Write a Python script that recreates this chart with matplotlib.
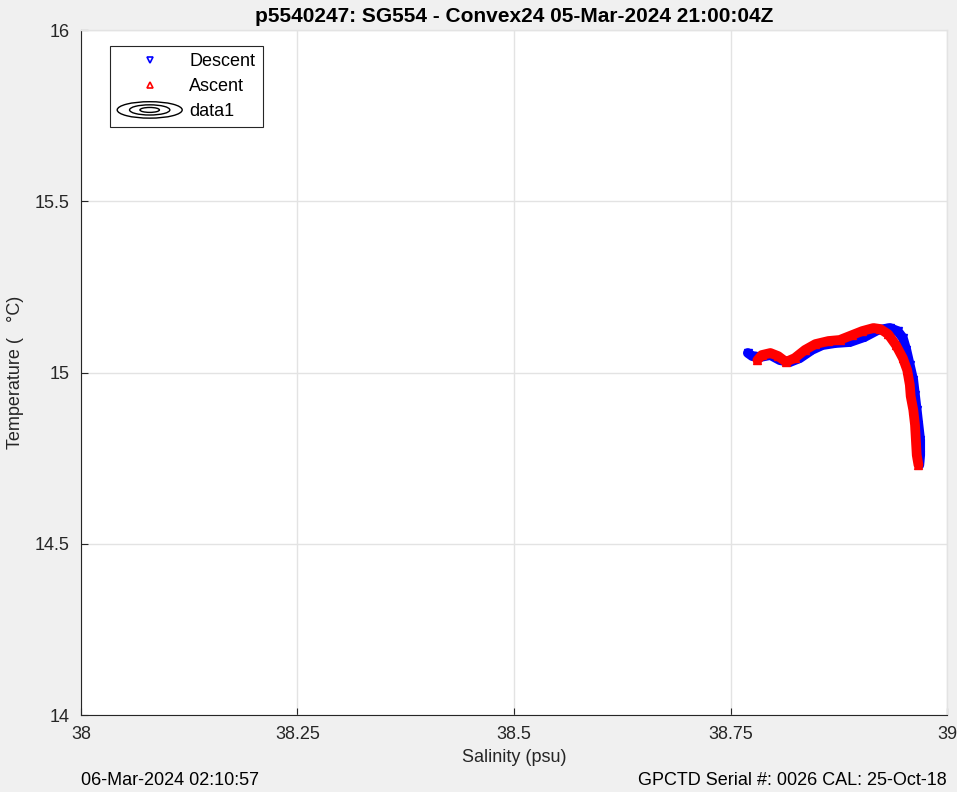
import matplotlib
matplotlib.use('Agg')
import matplotlib.pyplot as plt
from matplotlib.lines import Line2D
from matplotlib.patches import Ellipse
from matplotlib.legend_handler import HandlerBase

plt.rcParams['font.family'] = ['Liberation Sans', 'DejaVu Sans']

# descent / ascent profiles, salinity (psu) and temperature (C)
desc_salt = [38.770, 38.775, 38.784, 38.796, 38.807, 38.819, 38.830, 38.844, 38.856,
             38.871, 38.888, 38.905, 38.920, 38.934, 38.943, 38.949, 38.953, 38.957,
             38.961, 38.963, 38.965, 38.967, 38.969, 38.969, 38.968]
desc_temp = [15.057, 15.048, 15.045, 15.051, 15.036, 15.031, 15.042, 15.066, 15.080,
             15.086, 15.089, 15.104, 15.124, 15.130, 15.121, 15.101, 15.066, 15.022,
             14.978, 14.934, 14.891, 14.847, 14.803, 14.759, 14.730]
asc_salt = [38.781, 38.786, 38.796, 38.805, 38.814, 38.824, 38.836, 38.848, 38.863,
            38.876, 38.890, 38.902, 38.915, 38.923, 38.932, 38.941, 38.949, 38.954,
            38.957, 38.958, 38.961, 38.963, 38.964, 38.965, 38.967]
asc_temp = [15.036, 15.051, 15.057, 15.048, 15.031, 15.042, 15.066, 15.083, 15.092,
            15.095, 15.109, 15.121, 15.130, 15.127, 15.112, 15.080, 15.042, 15.007,
            14.964, 14.931, 14.891, 14.847, 14.803, 14.759, 14.730]

xticks = [38, 38.25, 38.5, 38.75, 39]
xticklabels = ['38', '38.25', '38.5', '38.75', '39']
yticks = [14, 14.5, 15, 15.5, 16]
yticklabels = ['14', '14.5', '15', '15.5', '16']

title = 'p5540247: SG554 - Convex24 05-Mar-2024 21:00:04Z'
footer_left = '06-Mar-2024 02:10:57'
footer_right = 'GPCTD Serial #: 0026 CAL: 25-Oct-18'

bg = '#f0f0f0'
txt = '#262626'
gridc = '#e3e3e3'


class ContourHandler(HandlerBase):
    # draws the little concentric ellipses used for the contour legend entry
    def create_artists(self, legend, orig, xd, yd, width, height, fontsize, trans):
        cx, cy = xd + width / 2, yd + height / 2
        arts = []
        for f in (1.0, 0.62, 0.3):
            e = Ellipse((cx, cy), width * f, height * 1.3 * f, fill=False,
                        edgecolor='black', lw=1.0, transform=trans)
            arts.append(e)
        return arts


fig = plt.figure(figsize=(9.57, 7.92), dpi=100, facecolor=bg)
ax = fig.add_axes([0.0846, 0.0972, 0.905, 0.8649])
ax.set_facecolor('white')

ax.plot(desc_salt, desc_temp, color='blue', lw=7, solid_capstyle='round', zorder=3)
ax.plot(desc_salt, desc_temp, 'v', color='blue', ms=6, zorder=3)
ax.plot(asc_salt, asc_temp, color='red', lw=7, solid_capstyle='round', zorder=4)
ax.plot(asc_salt, asc_temp, '^', color='red', ms=6, zorder=4)

ax.set_xlim(38, 39)
ax.set_ylim(14, 16)
ax.set_xticks(xticks)
ax.set_xticklabels(xticklabels)
ax.set_yticks(yticks)
ax.set_yticklabels(yticklabels)
ax.grid(True, color=gridc, lw=1)
ax.set_axisbelow(True)
ax.tick_params(direction='in', labelsize=13, colors=txt,
               length=5, width=0.8, pad=8)
for side in ['left', 'bottom']:
    ax.spines[side].set_color(txt)
    ax.spines[side].set_linewidth(0.8)
for side in ['top', 'right']:
    ax.spines[side].set_color(gridc)
    ax.spines[side].set_linewidth(1)

ax.set_title(title, fontsize=15, fontweight='bold', color='black', pad=6)
ax.set_xlabel('Salinity (psu)', fontsize=13, color=txt, labelpad=4)
ax.set_ylabel('Temperature (   \u00b0C)', fontsize=13, color=txt, labelpad=8)

h_desc = Line2D([], [], ls='none', marker='v', color='blue', mfc='none', ms=4, mew=1.2)
h_asc = Line2D([], [], ls='none', marker='^', color='red', mfc='none', ms=4, mew=1.2)
h_cont = Line2D([], [], color='black')
leg = ax.legend([h_desc, h_asc, h_cont], ['Descent', 'Ascent', 'data1'],
                handler_map={h_cont: ContourHandler()},
                loc='upper left', bbox_to_anchor=(0.0335, 0.977), borderaxespad=0,
                fontsize=13, fancybox=False, framealpha=1, edgecolor='#262626',
                handlelength=3.6, handletextpad=0.4, borderpad=0.4, labelspacing=0.45)
leg.get_frame().set_linewidth(0.8)

fig.text(0.0846, 0.0139, footer_left, fontsize=13, color='black', ha='left', va='center')
fig.text(0.9896, 0.0139, footer_right, fontsize=13, color='black', ha='right', va='center')

fig.savefig('out.png', dpi=100, facecolor=bg)
